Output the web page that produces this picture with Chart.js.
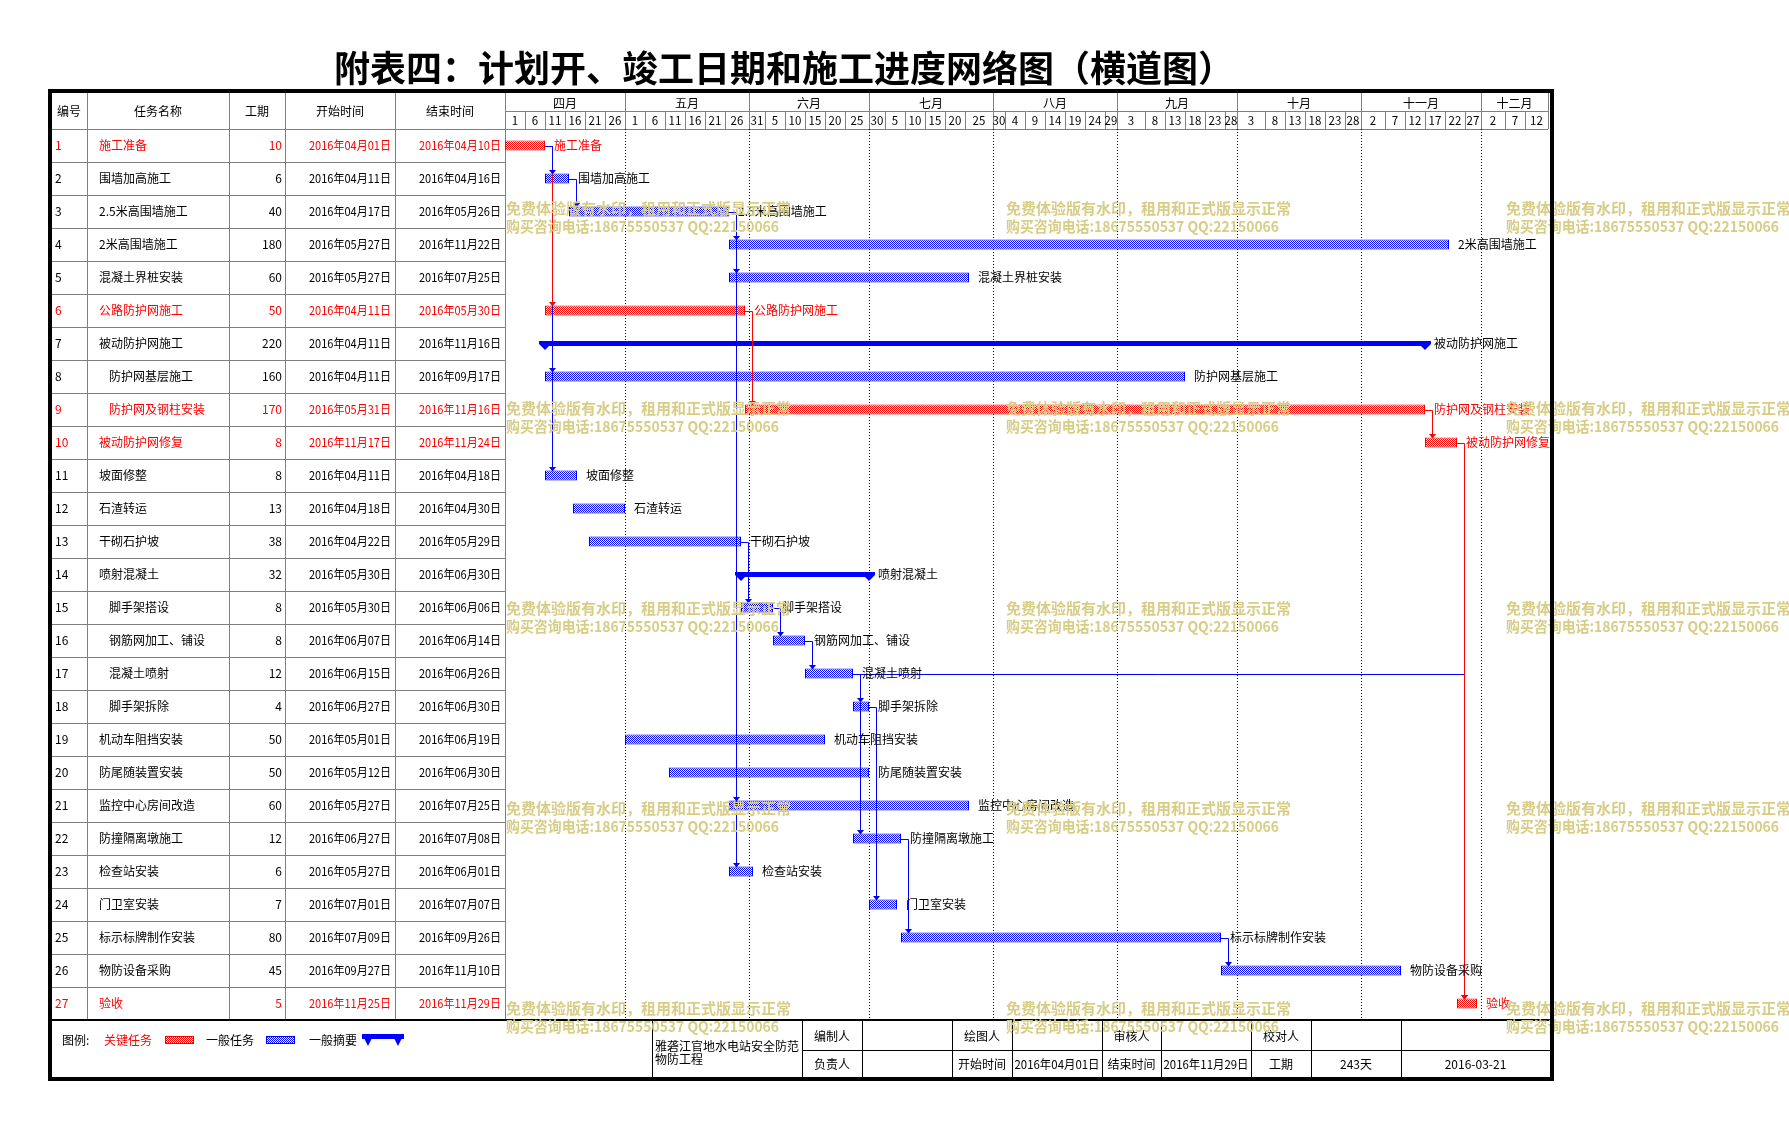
<!DOCTYPE html>
<html><head><meta charset="utf-8">
<script src="https://cdn.jsdelivr.net/npm/chart.js@4.4.1/dist/chart.umd.min.js"></script>
<style>html,body{margin:0;padding:0;background:#fff;}canvas{display:block;}</style>
</head><body>
<canvas id="c" width="1789" height="1128"></canvas>
<script>
// ---------- DATA ----------
const chartTitle = '附表四：计划开、竣工日期和施工进度网络图（横道图）';
const headerLabels = ['编号','任务名称','工期','开始时间','结束时间'];
const taskIds = ['1','2','3','4','5','6','7','8','9','10','11','12','13','14','15','16','17','18','19','20','21','22','23','24','25','26','27'];
const taskNames = ['施工准备','围墙加高施工','2.5米高围墙施工','2米高围墙施工','混凝土界桩安装','公路防护网施工','被动防护网施工','防护网基层施工','防护网及钢柱安装','被动防护网修复','坡面修整','石渣转运','干砌石护坡','喷射混凝土','脚手架搭设','钢筋网加工、铺设','混凝土喷射','脚手架拆除','机动车阻挡安装','防尾随装置安装','监控中心房间改造','防撞隔离墩施工','检查站安装','门卫室安装','标示标牌制作安装','物防设备采购','验收'];
const durations = [10,6,40,180,60,50,220,160,170,8,8,13,38,32,8,8,12,4,50,50,60,12,6,7,80,45,5];
const startDates = ['2016-04-01','2016-04-11','2016-04-17','2016-05-27','2016-05-27','2016-04-11','2016-04-11','2016-04-11','2016-05-31','2016-11-17','2016-04-11','2016-04-18','2016-04-22','2016-05-30','2016-05-30','2016-06-07','2016-06-15','2016-06-27','2016-05-01','2016-05-12','2016-05-27','2016-06-27','2016-05-27','2016-07-01','2016-07-09','2016-09-27','2016-11-25'];
const endDates = ['2016-04-10','2016-04-16','2016-05-26','2016-11-22','2016-07-25','2016-05-30','2016-11-16','2016-09-17','2016-11-16','2016-11-24','2016-04-18','2016-04-30','2016-05-29','2016-06-30','2016-06-06','2016-06-14','2016-06-26','2016-06-30','2016-06-19','2016-06-30','2016-07-25','2016-07-08','2016-06-01','2016-07-07','2016-09-26','2016-11-10','2016-11-29'];
const criticalTasks = [1,6,9,10,27];
const summaryTasks = [7,14];
const subTasks = [8,9,15,16,17,18];
// dependencies: [from, to]
const normalLinks = [[1,8],[1,11],[2,3],[3,4],[3,5],[3,21],[3,23],[13,15],[15,16],[16,17],[17,18],[17,22],[17,27],[18,24],[22,25],[25,26]];
const criticalLinks = [[1,6],[6,9],[9,10],[10,27]];
const topLinks = [[1,2]];
const monthLabels = ['四月','五月','六月','七月','八月','九月','十月','十一月','十二月'];
const monthStarts = ['2016-04-01','2016-05-01','2016-06-01','2016-07-01','2016-08-01','2016-09-01','2016-10-01','2016-11-01','2016-12-01'];
const dayTickLabels = [
  ['1','6','11','16','21','26'],
  ['1','6','11','16','21','26'],
  ['31','5','10','15','20','25'],
  ['30','5','10','15','20','25'],
  ['30','4','9','14','19','24','29'],
  ['3','8','13','18','23','28'],
  ['3','8','13','18','23','28'],
  ['2','7','12','17','22','27'],
  ['2','7','12']
];
const tickStep = 5;
const axisMaxDay = 261;
const legendLabels = ['图例:','关键任务','一般任务','一般摘要'];
const projectName = ['雅砻江官地水电站安全防范','物防工程'];
const footerRow1 = ['编制人','','绘图人','','审核人','','校对人','',''];
const footerRow2 = ['负责人','','开始时间','2016年04月01日','结束时间','2016年11月29日','工期','243天','2016-03-21'];
const watermarkLines = ['免费体验版有水印，租用和正式版显示正常','购买咨询电话:18675550537 QQ:22150066'];

// ---------- HELPERS ----------
const FONT = '"Noto Sans CJK SC","Noto Sans",sans-serif';
const fnt = (s, w) => (w || 'normal') + ' ' + s + 'px ' + FONT;
const DAY0 = Date.UTC(2016, 3, 1);
const dayIndex = s => { const p = s.split('-').map(Number); return Math.round((Date.UTC(p[0], p[1] - 1, p[2]) - DAY0) / 86400000); };
const startDays = startDates.map(dayIndex);
const endDays = endDates.map(d => dayIndex(d) + 1);
const fmtDate = s => s.replace(/(\d+)-(\d+)-(\d+)/, '$1年$2月$3日');
const isCrit = i => criticalTasks.includes(i + 1);
const isSum = i => summaryTasks.includes(i + 1);
const RED = '#ff0000', BLUE = '#0000ff', GRAY = '#808080';

const canvas = document.getElementById('c');
const mainCtx = canvas.getContext('2d');
function makePattern(color) {
  const c = document.createElement('canvas'); c.width = 2; c.height = 2;
  const g = c.getContext('2d');
  g.fillStyle = '#fff'; g.fillRect(0, 0, 2, 2);
  g.fillStyle = color; g.fillRect(0, 0, 1, 1); g.fillRect(1, 1, 1, 1);
  return mainCtx.createPattern(c, 'repeat');
}
const redPat = makePattern(RED), bluePat = makePattern(BLUE);

function hline(ctx, x1, x2, y, color, w) { ctx.strokeStyle = color; ctx.lineWidth = w || 1; ctx.beginPath(); const yy = (w && w % 2 === 0) ? Math.round(y) : Math.round(y) + 0.5; ctx.moveTo(x1, yy); ctx.lineTo(x2, yy); ctx.stroke(); }
function vline(ctx, x, y1, y2, color, w) { ctx.strokeStyle = color; ctx.lineWidth = w || 1; ctx.beginPath(); const xx = Math.round(x) + 0.5; ctx.moveTo(xx, y1); ctx.lineTo(xx, y2); ctx.stroke(); }
function text(ctx, s, x, y, align, color, font, maxW) { ctx.font = font; ctx.fillStyle = color; ctx.textAlign = align; ctx.textBaseline = 'middle'; if (maxW) ctx.fillText(s, x, y, maxW); else ctx.fillText(s, x, y); }

// ---------- PLUGIN ----------
const ganttPlugin = {
  id: 'gantt',
  beforeDraw(chart) {
    const ctx = chart.ctx, xs = chart.scales.x, ys = chart.scales.y, ca = chart.chartArea;
    const X = v => xs.getPixelForValue(v), Y = i => ys.getPixelForValue(i);
    ctx.save();
    ctx.fillStyle = '#fff'; ctx.fillRect(0, 0, chart.width, chart.height);
    // title
    text(ctx, chartTitle, 784, 68, 'center', '#000', fnt(36, 'bold'));
    const top = 93, hb = ca.top, bottom = ca.bottom, L = 51, right = 1548;
    const cols = [L, 87, 229, 285, 395, ca.left];
    // table header
    headerLabels.forEach((h, k) => text(ctx, h, (cols[k] + cols[k + 1]) / 2, (top + hb) / 2, 'center', '#000', fnt(12)));
    // rows
    taskIds.forEach((id, i) => {
      const y = Y(i), c = isCrit(i) ? RED : '#000';
      text(ctx, id, 55, y, 'left', c, fnt(12));
      text(ctx, taskNames[i], subTasks.includes(i + 1) ? 109 : 99, y, 'left', c, fnt(12));
      text(ctx, String(durations[i]), 282, y, 'right', c, fnt(12));
      text(ctx, fmtDate(startDates[i]), 391, y, 'right', c, fnt(12), 82);
      text(ctx, fmtDate(endDates[i]), 501, y, 'right', c, fnt(12), 82);
      if (i > 0) hline(ctx, L, ca.left, Y(i) - (Y(1) - Y(0)) / 2, GRAY);
    });
    cols.slice(1).forEach(x => vline(ctx, x, top, bottom, GRAY));
    // time header
    const midY = 111;
    hline(ctx, L, right, hb, GRAY);
    hline(ctx, ca.left, right, midY, GRAY);
    vline(ctx, right, top, hb, GRAY);
    const msd = monthStarts.map(dayIndex);
    let t = 0;
    monthLabels.forEach((m, k) => {
      const x0 = X(msd[k]), x1 = k < monthLabels.length - 1 ? X(msd[k + 1]) : right;
      vline(ctx, x0, top, hb, GRAY);
      text(ctx, m, (x0 + x1) / 2, (top + midY) / 2 + 1, 'center', '#000', fnt(12));
      const labs = dayTickLabels[k];
      const b = [x0];
      for (let j = 1; j < labs.length; j++) b.push(X((t + j) * tickStep));
      b.push(x1);
      labs.forEach((lb, j) => {
        if (j > 0) vline(ctx, b[j], midY, hb, GRAY);
        text(ctx, lb, (b[j] + b[j + 1]) / 2, (midY + hb) / 2 + 1, 'center', '#000', fnt(11.5));
      });
      t += labs.length;
      // dotted month gridline in body
      if (k > 0) {
        ctx.save(); ctx.setLineDash([1, 2]); vline(ctx, x0, hb, bottom, '#000'); ctx.restore();
      }
    });
    // ---- footer ----
    const fy1 = bottom, fy3 = 1077, fmid = 1050;
    // legend
    const ly = 1040;
    text(ctx, legendLabels[0], 62, ly, 'left', '#000', fnt(12));
    text(ctx, legendLabels[1], 104, ly, 'left', RED, fnt(12));
    ctx.fillStyle = redPat; ctx.fillRect(165, 1036, 29, 8); ctx.strokeStyle = RED; ctx.lineWidth = 1; ctx.strokeRect(165.5, 1036.5, 28, 7);
    text(ctx, legendLabels[2], 206, ly, 'left', '#000', fnt(12));
    ctx.fillStyle = bluePat; ctx.fillRect(266, 1036, 29, 8); ctx.strokeStyle = BLUE; ctx.strokeRect(266.5, 1036.5, 28, 7);
    text(ctx, legendLabels[3], 309, ly, 'left', '#000', fnt(12));
    ctx.fillStyle = BLUE; ctx.fillRect(362, 1034, 42, 5);
    [368, 398].forEach(cx => { ctx.beginPath(); ctx.moveTo(cx - 6, 1034); ctx.lineTo(cx + 6, 1034); ctx.lineTo(cx, 1046); ctx.closePath(); ctx.fill(); });
    // sub table
    const fc = [652, 802, 862, 952, 1012, 1102, 1161, 1251, 1311, 1401, 1550];
    fc.slice(0, -1).forEach(x => vline(ctx, x, fy1, fy3, '#000'));
    hline(ctx, fc[1], fc[fc.length - 1], fmid, '#000');
    text(ctx, projectName[0], 655, 1046, 'left', '#000', fnt(12), 146);
    text(ctx, projectName[1], 655, 1059, 'left', '#000', fnt(12));
    footerRow1.forEach((s, k) => { if (s) text(ctx, s, (fc[k + 1] + fc[k + 2]) / 2, (fy1 + fmid) / 2 + 1, 'center', '#000', fnt(12), fc[k + 2] - fc[k + 1] - 4); });
    footerRow2.forEach((s, k) => { if (s) text(ctx, s, (fc[k + 1] + fc[k + 2]) / 2, (fmid + fy3) / 2 + 1, 'center', '#000', fnt(12), fc[k + 2] - fc[k + 1] - 5); });
    hline(ctx, L, 1550, fy1, '#000', 2);
    ctx.restore();
  },
  afterDatasetsDraw(chart) {
    const ctx = chart.ctx, xs = chart.scales.x, ys = chart.scales.y;
    const X = v => xs.getPixelForValue(v), Y = i => ys.getPixelForValue(i);
    ctx.save();
    // summary triangles
    taskIds.forEach((id, i) => {
      if (!isSum(i)) return;
      const tp = Y(i) - 2.5;
      ctx.fillStyle = BLUE;
      [X(startDays[i]), X(endDays[i])].forEach(cx => { ctx.beginPath(); ctx.moveTo(cx - 6, tp); ctx.lineTo(cx + 6, tp); ctx.lineTo(cx + 6, tp + 3); ctx.lineTo(cx, tp + 9); ctx.lineTo(cx - 6, tp + 3); ctx.closePath(); ctx.fill(); });
    });
    // links
    const link = (a, b, color) => {
      const i = a - 1, j = b - 1;
      const x1 = X(endDays[i]), y1 = Math.round(Y(i)) + 0.5;
      const xl = Math.round(X(startDays[j]) + 7) + 0.5, yt = Math.round(Y(j) - 5);
      ctx.strokeStyle = color; ctx.lineWidth = 1;
      ctx.beginPath(); ctx.moveTo(x1, y1); ctx.lineTo(xl, y1); ctx.lineTo(xl, yt - 3); ctx.stroke();
      ctx.fillStyle = color; ctx.beginPath(); ctx.moveTo(xl - 3.5, yt - 4); ctx.lineTo(xl + 3.5, yt - 4); ctx.lineTo(xl, yt + 0.5); ctx.closePath(); ctx.fill();
    };
    normalLinks.forEach(l => link(l[0], l[1], BLUE));
    criticalLinks.forEach(l => link(l[0], l[1], RED));
    topLinks.forEach(l => link(l[0], l[1], BLUE));
    // labels
    taskIds.forEach((id, i) => {
      text(ctx, taskNames[i], X(endDays[i]) + 9, Y(i), 'left', isCrit(i) ? RED : '#000', fnt(12));
    });
    ctx.restore();
  },
  afterDraw(chart) {
    const ctx = chart.ctx;
    ctx.save();
    // watermarks
    [506, 1006, 1506].forEach(x => [208, 408, 608, 808, 1008].forEach(y => {
      text(ctx, watermarkLines[0], x, y, 'left', '#d8cd86', fnt(15, 'bold'), 285);
      text(ctx, watermarkLines[1], x, y + 18, 'left', '#d8cd86', fnt(15, 'bold'), 273);
    }));
    // thick border
    ctx.strokeStyle = '#000'; ctx.lineWidth = 4;
    ctx.strokeRect(50, 91, 1502, 988);
    ctx.restore();
  }
};

// ---------- CHART ----------
const taskData = taskIds.map((id, i) => isSum(i) ? null : [startDays[i], endDays[i]]);
const sumData = taskIds.map((id, i) => isSum(i) ? [startDays[i], endDays[i]] : null);

new Chart(canvas, {
  type: 'bar',
  data: {
    labels: taskIds,
    datasets: [
      {
        label: '任务', data: taskData,
        backgroundColor: taskIds.map((id, i) => isCrit(i) ? redPat : bluePat),
        borderColor: taskIds.map((id, i) => isCrit(i) ? RED : BLUE),
        borderWidth: 1, borderSkipped: false, barThickness: 10, grouped: false, inflateAmount: 0
      },
      {
        label: '摘要', data: sumData, backgroundColor: BLUE, borderWidth: 0,
        borderSkipped: false, barThickness: 5, grouped: false, inflateAmount: 0
      }
    ]
  },
  options: {
    responsive: false, animation: false, devicePixelRatio: 1, indexAxis: 'y', events: [],
    layout: { padding: { left: 505, top: 129, right: 240, bottom: 108 } },
    scales: {
      x: { type: 'linear', min: 0, max: axisMaxDay, display: false },
      y: { type: 'category', labels: taskIds, display: false, offset: true }
    },
    plugins: { legend: { display: false }, tooltip: { enabled: false }, title: { display: false } }
  },
  plugins: [ganttPlugin]
});
</script>
</body></html>
